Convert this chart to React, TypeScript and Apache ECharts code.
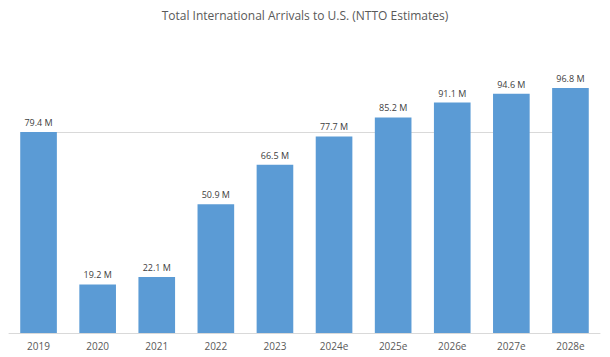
import React, { useEffect, useRef } from "react";
import * as echarts from "echarts";

const categories = ["2019", "2020", "2021", "2022", "2023", "2024e", "2025e", "2026e", "2027e", "2028e"];
const arrivals = [79.4, 19.2, 22.1, 50.9, 66.5, 77.7, 85.2, 91.1, 94.6, 96.8];
const referenceLevel = 79.4;

export default function App() {
  const ref = useRef<HTMLDivElement>(null);
  useEffect(() => {
    if (!ref.current) return;
    const chart = echarts.init(ref.current, null, { renderer: "svg" });
    chart.setOption({
      animation: false,
      backgroundColor: "#ffffff",
      title: {
        text: "Total International Arrivals to U.S. (NTTO Estimates)",
        left: "center",
        top: 4,
        textStyle: { fontFamily: "Open Sans", fontSize: 12, fontWeight: "normal", color: "#595959" },
      },
      grid: { left: 9, right: 10, top: 80, bottom: 24 },
      xAxis: {
        type: "category",
        data: categories,
        axisLine: { lineStyle: { color: "#d9d9d9" } },
        axisTick: { show: false },
        axisLabel: { color: "#595959", fontFamily: "Open Sans", fontSize: 10, margin: 8 },
      },
      yAxis: {
        type: "value",
        min: 0,
        max: 100,
        show: false,
        splitLine: { show: false },
      },
      series: [
        {
          type: "bar",
          data: arrivals,
          barWidth: "62%",
          itemStyle: { color: "#5b9bd5" },
          label: {
            show: true,
            position: "top",
            distance: 5,
            formatter: (p: any) => `${p.value.toFixed(1)} M`,
            color: "#404040",
            fontFamily: "Open Sans",
            fontSize: 9,
          },
          markLine: {
            z: 1,
            silent: true,
            symbol: "none",
            label: { show: false },
            lineStyle: { color: "#d9d9d9", type: "solid", width: 1 },
            data: [[{ coord: [0, referenceLevel] }, { coord: [9, referenceLevel] }]],
          },
        },
      ],
    });
    return () => chart.dispose();
  }, []);
  return <div ref={ref} style={{ width: 610, height: 357, position: "absolute", left: 0, top: 0 }} />;
}
